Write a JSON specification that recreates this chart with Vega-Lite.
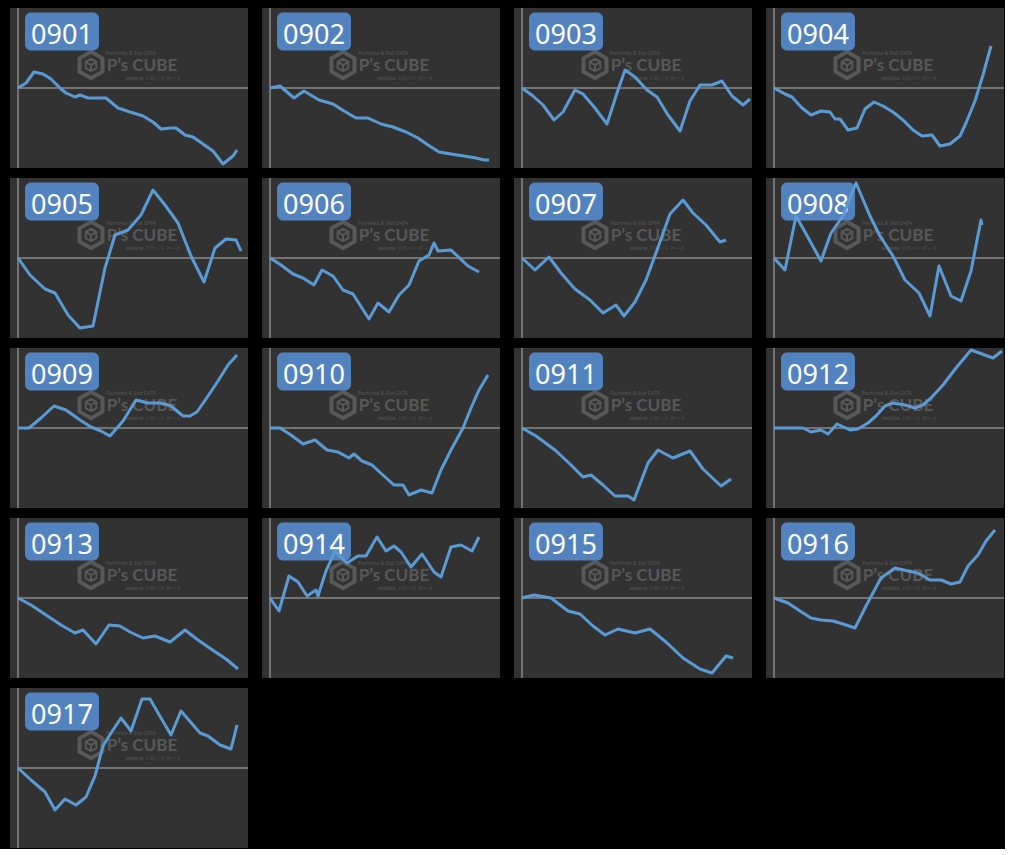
{
  "$schema": "https://vega.github.io/schema/vega-lite/v6.json",
  "background": "#000000",
  "padding": {"left": 10, "top": 7, "right": 0, "bottom": 0},
  "config": {
    "view": {"fill": "#323232", "stroke": null},
    "font": "Noto Sans",
    "header": {"labels": false, "labelFontSize": 0, "labelPadding": 0, "labelColor": "#000000", "titleFontSize": 0, "titlePadding": 0}
  },
  "data": {
    "values": [
      {"d": "0901", "t": 0, "v": 0}, {"d": "0901", "t": 8, "v": 5}, {"d": "0901", "t": 16, "v": 16}, {"d": "0901", "t": 25, "v": 14}, {"d": "0901", "t": 33, "v": 9}, {"d": "0901", "t": 43, "v": -1}, {"d": "0901", "t": 48, "v": -5}, {"d": "0901", "t": 57, "v": -9}, {"d": "0901", "t": 62, "v": -7}, {"d": "0901", "t": 70, "v": -10}, {"d": "0901", "t": 88, "v": -10}, {"d": "0901", "t": 100, "v": -20}, {"d": "0901", "t": 112, "v": -24}, {"d": "0901", "t": 125, "v": -28}, {"d": "0901", "t": 135, "v": -34}, {"d": "0901", "t": 143, "v": -41}, {"d": "0901", "t": 153, "v": -40}, {"d": "0901", "t": 158, "v": -40}, {"d": "0901", "t": 167, "v": -47}, {"d": "0901", "t": 175, "v": -49}, {"d": "0901", "t": 185, "v": -56}, {"d": "0901", "t": 195, "v": -63}, {"d": "0901", "t": 205, "v": -76}, {"d": "0901", "t": 215, "v": -68}, {"d": "0901", "t": 219, "v": -62},
      {"d": "0902", "t": 0, "v": 0}, {"d": "0902", "t": 10, "v": 2}, {"d": "0902", "t": 24, "v": -10}, {"d": "0902", "t": 34, "v": -3}, {"d": "0902", "t": 49, "v": -12}, {"d": "0902", "t": 63, "v": -16}, {"d": "0902", "t": 74, "v": -23}, {"d": "0902", "t": 86, "v": -30}, {"d": "0902", "t": 98, "v": -30}, {"d": "0902", "t": 111, "v": -36}, {"d": "0902", "t": 123, "v": -39}, {"d": "0902", "t": 136, "v": -44}, {"d": "0902", "t": 148, "v": -50}, {"d": "0902", "t": 158, "v": -57}, {"d": "0902", "t": 169, "v": -64}, {"d": "0902", "t": 181, "v": -66}, {"d": "0902", "t": 194, "v": -68}, {"d": "0902", "t": 206, "v": -70}, {"d": "0902", "t": 214, "v": -72}, {"d": "0902", "t": 219, "v": -72},
      {"d": "0903", "t": 0, "v": 0}, {"d": "0903", "t": 11, "v": -8}, {"d": "0903", "t": 21, "v": -17}, {"d": "0903", "t": 32, "v": -32}, {"d": "0903", "t": 41, "v": -24}, {"d": "0903", "t": 53, "v": -2}, {"d": "0903", "t": 61, "v": -6}, {"d": "0903", "t": 73, "v": -20}, {"d": "0903", "t": 85, "v": -36}, {"d": "0903", "t": 95, "v": -5}, {"d": "0903", "t": 103, "v": 18}, {"d": "0903", "t": 113, "v": 11}, {"d": "0903", "t": 125, "v": -2}, {"d": "0903", "t": 135, "v": -9}, {"d": "0903", "t": 146, "v": -27}, {"d": "0903", "t": 158, "v": -43}, {"d": "0903", "t": 168, "v": -13}, {"d": "0903", "t": 178, "v": 3}, {"d": "0903", "t": 190, "v": 3}, {"d": "0903", "t": 200, "v": 7}, {"d": "0903", "t": 210, "v": -8}, {"d": "0903", "t": 221, "v": -17}, {"d": "0903", "t": 228, "v": -11},
      {"d": "0904", "t": 0, "v": 0}, {"d": "0904", "t": 11, "v": -6}, {"d": "0904", "t": 18, "v": -9}, {"d": "0904", "t": 27, "v": -19}, {"d": "0904", "t": 37, "v": -27}, {"d": "0904", "t": 47, "v": -23}, {"d": "0904", "t": 56, "v": -24}, {"d": "0904", "t": 61, "v": -31}, {"d": "0904", "t": 66, "v": -31}, {"d": "0904", "t": 74, "v": -42}, {"d": "0904", "t": 83, "v": -40}, {"d": "0904", "t": 91, "v": -21}, {"d": "0904", "t": 100, "v": -14}, {"d": "0904", "t": 109, "v": -18}, {"d": "0904", "t": 119, "v": -24}, {"d": "0904", "t": 129, "v": -32}, {"d": "0904", "t": 139, "v": -42}, {"d": "0904", "t": 148, "v": -48}, {"d": "0904", "t": 158, "v": -47}, {"d": "0904", "t": 166, "v": -58}, {"d": "0904", "t": 176, "v": -56}, {"d": "0904", "t": 186, "v": -48}, {"d": "0904", "t": 192, "v": -35}, {"d": "0904", "t": 201, "v": -13}, {"d": "0904", "t": 209, "v": 13}, {"d": "0904", "t": 217, "v": 42},
      {"d": "0905", "t": 0, "v": 0}, {"d": "0905", "t": 12, "v": -17}, {"d": "0905", "t": 27, "v": -31}, {"d": "0905", "t": 37, "v": -35}, {"d": "0905", "t": 50, "v": -57}, {"d": "0905", "t": 62, "v": -70}, {"d": "0905", "t": 75, "v": -68}, {"d": "0905", "t": 87, "v": -10}, {"d": "0905", "t": 97, "v": 23}, {"d": "0905", "t": 110, "v": 28}, {"d": "0905", "t": 123, "v": 43}, {"d": "0905", "t": 135, "v": 68}, {"d": "0905", "t": 147, "v": 53}, {"d": "0905", "t": 160, "v": 35}, {"d": "0905", "t": 173, "v": 2}, {"d": "0905", "t": 186, "v": -24}, {"d": "0905", "t": 197, "v": 10}, {"d": "0905", "t": 208, "v": 19}, {"d": "0905", "t": 218, "v": 18}, {"d": "0905", "t": 223, "v": 7},
      {"d": "0906", "t": 0, "v": 0}, {"d": "0906", "t": 11, "v": -7}, {"d": "0906", "t": 23, "v": -16}, {"d": "0906", "t": 33, "v": -20}, {"d": "0906", "t": 44, "v": -27}, {"d": "0906", "t": 52, "v": -12}, {"d": "0906", "t": 63, "v": -18}, {"d": "0906", "t": 73, "v": -32}, {"d": "0906", "t": 83, "v": -36}, {"d": "0906", "t": 99, "v": -61}, {"d": "0906", "t": 108, "v": -45}, {"d": "0906", "t": 119, "v": -54}, {"d": "0906", "t": 129, "v": -37}, {"d": "0906", "t": 139, "v": -27}, {"d": "0906", "t": 149, "v": -3}, {"d": "0906", "t": 159, "v": 3}, {"d": "0906", "t": 164, "v": 15}, {"d": "0906", "t": 168, "v": 7}, {"d": "0906", "t": 181, "v": 8}, {"d": "0906", "t": 198, "v": -8}, {"d": "0906", "t": 209, "v": -14},
      {"d": "0907", "t": 0, "v": 0}, {"d": "0907", "t": 13, "v": -12}, {"d": "0907", "t": 27, "v": 1}, {"d": "0907", "t": 39, "v": -15}, {"d": "0907", "t": 53, "v": -31}, {"d": "0907", "t": 68, "v": -42}, {"d": "0907", "t": 81, "v": -55}, {"d": "0907", "t": 94, "v": -47}, {"d": "0907", "t": 102, "v": -58}, {"d": "0907", "t": 113, "v": -44}, {"d": "0907", "t": 124, "v": -22}, {"d": "0907", "t": 134, "v": 5}, {"d": "0907", "t": 148, "v": 44}, {"d": "0907", "t": 161, "v": 58}, {"d": "0907", "t": 171, "v": 45}, {"d": "0907", "t": 184, "v": 33}, {"d": "0907", "t": 198, "v": 16}, {"d": "0907", "t": 204, "v": 18},
      {"d": "0908", "t": 0, "v": 0}, {"d": "0908", "t": 11, "v": -12}, {"d": "0908", "t": 22, "v": 42}, {"d": "0908", "t": 36, "v": 17}, {"d": "0908", "t": 47, "v": -3}, {"d": "0908", "t": 57, "v": 25}, {"d": "0908", "t": 69, "v": 42}, {"d": "0908", "t": 82, "v": 75}, {"d": "0908", "t": 96, "v": 42}, {"d": "0908", "t": 106, "v": 22}, {"d": "0908", "t": 119, "v": 2}, {"d": "0908", "t": 131, "v": -22}, {"d": "0908", "t": 145, "v": -35}, {"d": "0908", "t": 156, "v": -58}, {"d": "0908", "t": 165, "v": -8}, {"d": "0908", "t": 177, "v": -38}, {"d": "0908", "t": 187, "v": -43}, {"d": "0908", "t": 197, "v": -13}, {"d": "0908", "t": 207, "v": 38}, {"d": "0908", "t": 208, "v": 33},
      {"d": "0909", "t": 0, "v": 0}, {"d": "0909", "t": 11, "v": 0}, {"d": "0909", "t": 23, "v": 10}, {"d": "0909", "t": 36, "v": 22}, {"d": "0909", "t": 48, "v": 18}, {"d": "0909", "t": 62, "v": 8}, {"d": "0909", "t": 73, "v": 1}, {"d": "0909", "t": 83, "v": -3}, {"d": "0909", "t": 92, "v": -8}, {"d": "0909", "t": 105, "v": 7}, {"d": "0909", "t": 118, "v": 28}, {"d": "0909", "t": 130, "v": 25}, {"d": "0909", "t": 143, "v": 25}, {"d": "0909", "t": 153, "v": 22}, {"d": "0909", "t": 165, "v": 12}, {"d": "0909", "t": 172, "v": 12}, {"d": "0909", "t": 179, "v": 16}, {"d": "0909", "t": 190, "v": 32}, {"d": "0909", "t": 200, "v": 47}, {"d": "0909", "t": 210, "v": 63}, {"d": "0909", "t": 219, "v": 73},
      {"d": "0910", "t": 0, "v": 0}, {"d": "0910", "t": 10, "v": 0}, {"d": "0910", "t": 21, "v": -7}, {"d": "0910", "t": 33, "v": -16}, {"d": "0910", "t": 45, "v": -12}, {"d": "0910", "t": 57, "v": -22}, {"d": "0910", "t": 68, "v": -24}, {"d": "0910", "t": 79, "v": -30}, {"d": "0910", "t": 84, "v": -26}, {"d": "0910", "t": 92, "v": -33}, {"d": "0910", "t": 102, "v": -37}, {"d": "0910", "t": 114, "v": -48}, {"d": "0910", "t": 124, "v": -57}, {"d": "0910", "t": 133, "v": -57}, {"d": "0910", "t": 139, "v": -67}, {"d": "0910", "t": 151, "v": -62}, {"d": "0910", "t": 162, "v": -65}, {"d": "0910", "t": 171, "v": -42}, {"d": "0910", "t": 181, "v": -22}, {"d": "0910", "t": 193, "v": 0}, {"d": "0910", "t": 201, "v": 20}, {"d": "0910", "t": 209, "v": 38}, {"d": "0910", "t": 218, "v": 53},
      {"d": "0911", "t": 0, "v": 0}, {"d": "0911", "t": 14, "v": -8}, {"d": "0911", "t": 33, "v": -22}, {"d": "0911", "t": 48, "v": -36}, {"d": "0911", "t": 61, "v": -49}, {"d": "0911", "t": 69, "v": -47}, {"d": "0911", "t": 81, "v": -57}, {"d": "0911", "t": 93, "v": -68}, {"d": "0911", "t": 106, "v": -68}, {"d": "0911", "t": 112, "v": -72}, {"d": "0911", "t": 126, "v": -35}, {"d": "0911", "t": 136, "v": -22}, {"d": "0911", "t": 151, "v": -30}, {"d": "0911", "t": 168, "v": -23}, {"d": "0911", "t": 181, "v": -41}, {"d": "0911", "t": 199, "v": -58}, {"d": "0911", "t": 209, "v": -51},
      {"d": "0912", "t": 0, "v": 0}, {"d": "0912", "t": 29, "v": 0}, {"d": "0912", "t": 37, "v": -4}, {"d": "0912", "t": 47, "v": -2}, {"d": "0912", "t": 54, "v": -6}, {"d": "0912", "t": 63, "v": 4}, {"d": "0912", "t": 76, "v": -2}, {"d": "0912", "t": 84, "v": -1}, {"d": "0912", "t": 94, "v": 5}, {"d": "0912", "t": 102, "v": 12}, {"d": "0912", "t": 111, "v": 22}, {"d": "0912", "t": 119, "v": 25}, {"d": "0912", "t": 131, "v": 23}, {"d": "0912", "t": 141, "v": 20}, {"d": "0912", "t": 149, "v": 23}, {"d": "0912", "t": 157, "v": 30}, {"d": "0912", "t": 169, "v": 43}, {"d": "0912", "t": 182, "v": 60}, {"d": "0912", "t": 197, "v": 78}, {"d": "0912", "t": 219, "v": 70}, {"d": "0912", "t": 228, "v": 77},
      {"d": "0913", "t": 0, "v": 0}, {"d": "0913", "t": 13, "v": -7}, {"d": "0913", "t": 28, "v": -17}, {"d": "0913", "t": 43, "v": -27}, {"d": "0913", "t": 57, "v": -35}, {"d": "0913", "t": 65, "v": -32}, {"d": "0913", "t": 78, "v": -46}, {"d": "0913", "t": 91, "v": -27}, {"d": "0913", "t": 102, "v": -28}, {"d": "0913", "t": 112, "v": -34}, {"d": "0913", "t": 125, "v": -40}, {"d": "0913", "t": 137, "v": -38}, {"d": "0913", "t": 152, "v": -44}, {"d": "0913", "t": 167, "v": -32}, {"d": "0913", "t": 180, "v": -42}, {"d": "0913", "t": 193, "v": -51}, {"d": "0913", "t": 208, "v": -61}, {"d": "0913", "t": 220, "v": -71},
      {"d": "0914", "t": 0, "v": 0}, {"d": "0914", "t": 9, "v": -13}, {"d": "0914", "t": 19, "v": 22}, {"d": "0914", "t": 28, "v": 16}, {"d": "0914", "t": 37, "v": 2}, {"d": "0914", "t": 46, "v": 8}, {"d": "0914", "t": 48, "v": 2}, {"d": "0914", "t": 56, "v": 27}, {"d": "0914", "t": 65, "v": 47}, {"d": "0914", "t": 77, "v": 35}, {"d": "0914", "t": 88, "v": 42}, {"d": "0914", "t": 96, "v": 42}, {"d": "0914", "t": 107, "v": 61}, {"d": "0914", "t": 116, "v": 47}, {"d": "0914", "t": 124, "v": 52}, {"d": "0914", "t": 131, "v": 46}, {"d": "0914", "t": 141, "v": 31}, {"d": "0914", "t": 152, "v": 44}, {"d": "0914", "t": 164, "v": 26}, {"d": "0914", "t": 171, "v": 21}, {"d": "0914", "t": 181, "v": 51}, {"d": "0914", "t": 191, "v": 53}, {"d": "0914", "t": 202, "v": 47}, {"d": "0914", "t": 209, "v": 61},
      {"d": "0915", "t": 0, "v": 0}, {"d": "0915", "t": 12, "v": 3}, {"d": "0915", "t": 29, "v": 0}, {"d": "0915", "t": 46, "v": -13}, {"d": "0915", "t": 58, "v": -16}, {"d": "0915", "t": 71, "v": -28}, {"d": "0915", "t": 83, "v": -37}, {"d": "0915", "t": 96, "v": -31}, {"d": "0915", "t": 113, "v": -35}, {"d": "0915", "t": 128, "v": -31}, {"d": "0915", "t": 144, "v": -44}, {"d": "0915", "t": 161, "v": -60}, {"d": "0915", "t": 178, "v": -71}, {"d": "0915", "t": 190, "v": -75}, {"d": "0915", "t": 204, "v": -58}, {"d": "0915", "t": 211, "v": -60},
      {"d": "0916", "t": 0, "v": 0}, {"d": "0916", "t": 14, "v": -5}, {"d": "0916", "t": 26, "v": -13}, {"d": "0916", "t": 37, "v": -20}, {"d": "0916", "t": 47, "v": -22}, {"d": "0916", "t": 59, "v": -23}, {"d": "0916", "t": 69, "v": -26}, {"d": "0916", "t": 81, "v": -30}, {"d": "0916", "t": 92, "v": -8}, {"d": "0916", "t": 107, "v": 20}, {"d": "0916", "t": 121, "v": 30}, {"d": "0916", "t": 134, "v": 27}, {"d": "0916", "t": 144, "v": 25}, {"d": "0916", "t": 156, "v": 18}, {"d": "0916", "t": 167, "v": 18}, {"d": "0916", "t": 177, "v": 14}, {"d": "0916", "t": 186, "v": 16}, {"d": "0916", "t": 194, "v": 32}, {"d": "0916", "t": 204, "v": 43}, {"d": "0916", "t": 212, "v": 57}, {"d": "0916", "t": 221, "v": 68},
      {"d": "0917", "t": 0, "v": 0}, {"d": "0917", "t": 13, "v": -12}, {"d": "0917", "t": 27, "v": -24}, {"d": "0917", "t": 37, "v": -42}, {"d": "0917", "t": 47, "v": -31}, {"d": "0917", "t": 58, "v": -37}, {"d": "0917", "t": 68, "v": -29}, {"d": "0917", "t": 77, "v": -8}, {"d": "0917", "t": 85, "v": 22}, {"d": "0917", "t": 93, "v": 35}, {"d": "0917", "t": 103, "v": 50}, {"d": "0917", "t": 113, "v": 37}, {"d": "0917", "t": 124, "v": 69}, {"d": "0917", "t": 132, "v": 69}, {"d": "0917", "t": 143, "v": 50}, {"d": "0917", "t": 153, "v": 33}, {"d": "0917", "t": 163, "v": 57}, {"d": "0917", "t": 182, "v": 35}, {"d": "0917", "t": 190, "v": 32}, {"d": "0917", "t": 202, "v": 23}, {"d": "0917", "t": 213, "v": 19}, {"d": "0917", "t": 219, "v": 43}
    ]
  },
  "columns": 4,
  "spacing": {"row": 8, "column": 13},
  "facet": {"field": "d", "type": "nominal", "header": {"title": null, "labels": false, "labelFontSize": 0, "labelPadding": 0, "labelColor": "#000000"}},
  "spec": {
    "width": 238,
    "height": 160,
    "layer": [
      {
        "transform": [{"aggregate": [{"op": "count", "as": "n"}], "groupby": ["d"]}],
        "mark": {"type": "rule", "color": "#8a8a8a", "strokeWidth": 1.5},
        "encoding": {
          "x": {"datum": 0, "type": "quantitative", "axis": null},
          "x2": {"datum": 230},
          "y": {"datum": 0, "type": "quantitative", "axis": null}
        }
      },
      {
        "transform": [{"aggregate": [{"op": "count", "as": "n"}], "groupby": ["d"]}],
        "mark": {"type": "rule", "color": "#8a8a8a", "strokeWidth": 1.5},
        "encoding": {
          "x": {"datum": 0, "type": "quantitative", "axis": null},
          "y": {"datum": -80, "type": "quantitative", "axis": null},
          "y2": {"datum": 80}
        }
      },
      {
        "transform": [{"aggregate": [{"op": "count", "as": "n"}], "groupby": ["d"]}],
        "mark": {"type": "point", "shape": "M0,-1L0.87,-0.5L0.87,0.5L0,1L-0.87,0.5L-0.87,-0.5Z", "filled": false, "stroke": "#585858", "strokeWidth": 4, "size": 700, "opacity": 1},
        "encoding": {
          "x": {"datum": 73, "type": "quantitative", "axis": null},
          "y": {"datum": 23, "type": "quantitative", "axis": null}
        }
      },
      {
        "transform": [{"aggregate": [{"op": "count", "as": "n"}], "groupby": ["d"]}],
        "mark": {"type": "point", "shape": "M0,-1L0.87,-0.5L0.87,0.5L0,1L-0.87,0.5L-0.87,-0.5Z M-0.87,-0.5L0,0L0.87,-0.5 M0,0L0,1", "filled": false, "stroke": "#585858", "strokeWidth": 2, "size": 150, "opacity": 1},
        "encoding": {
          "x": {"datum": 73, "type": "quantitative", "axis": null},
          "y": {"datum": 23, "type": "quantitative", "axis": null}
        }
      },
      {
        "transform": [{"aggregate": [{"op": "count", "as": "n"}], "groupby": ["d"]}],
        "mark": {"type": "text", "text": "P’s CUBE", "font": "Lato", "fontWeight": "bold", "fontSize": 17, "color": "#585858", "align": "center", "baseline": "middle"},
        "encoding": {
          "x": {"datum": 124, "type": "quantitative", "axis": null},
          "y": {"datum": 22, "type": "quantitative", "axis": null}
        }
      },
      {
        "transform": [{"aggregate": [{"op": "count", "as": "n"}], "groupby": ["d"]}],
        "mark": {"type": "text", "text": "Pachinko & Slot DATA", "fontSize": 5, "color": "#585858", "align": "center", "baseline": "middle"},
        "encoding": {
          "x": {"datum": 113, "type": "quantitative", "axis": null},
          "y": {"datum": 35, "type": "quantitative", "axis": null}
        }
      },
      {
        "transform": [{"aggregate": [{"op": "count", "as": "n"}], "groupby": ["d"]}],
        "mark": {"type": "text", "text": "website スロパチ データ", "fontSize": 5, "color": "#585858", "align": "center", "baseline": "middle"},
        "encoding": {
          "x": {"datum": 135, "type": "quantitative", "axis": null},
          "y": {"datum": 10, "type": "quantitative", "axis": null}
        }
      },
      {
        "transform": [{"aggregate": [{"op": "count", "as": "n"}], "groupby": ["d"]}],
        "mark": {"type": "rect", "color": "#5383be", "cornerRadius": 6},
        "encoding": {
          "x": {"datum": 7, "type": "quantitative", "axis": null},
          "x2": {"datum": 81},
          "y": {"datum": 75.5, "type": "quantitative", "axis": null},
          "y2": {"datum": 37.5}
        }
      },
      {
        "transform": [{"aggregate": [{"op": "count", "as": "n"}], "groupby": ["d"]}],
        "mark": {"type": "text", "font": "Noto Sans", "fontSize": 27, "color": "#ffffff", "align": "center", "baseline": "alphabetic"},
        "encoding": {
          "text": {"field": "d", "type": "nominal"},
          "x": {"datum": 44, "type": "quantitative", "axis": null},
          "y": {"datum": 44.3, "type": "quantitative", "axis": null}
        }
      },
      {
        "mark": {"type": "line", "color": "#5b9bd5", "strokeWidth": 3, "strokeJoin": "round"},
        "encoding": {
          "x": {"field": "t", "type": "quantitative", "scale": {"domain": [-8, 230], "nice": false, "zero": false}, "axis": null},
          "y": {"field": "v", "type": "quantitative", "scale": {"domain": [-80, 80], "nice": false, "zero": false}, "axis": null}
        }
      }
    ]
  }
}
